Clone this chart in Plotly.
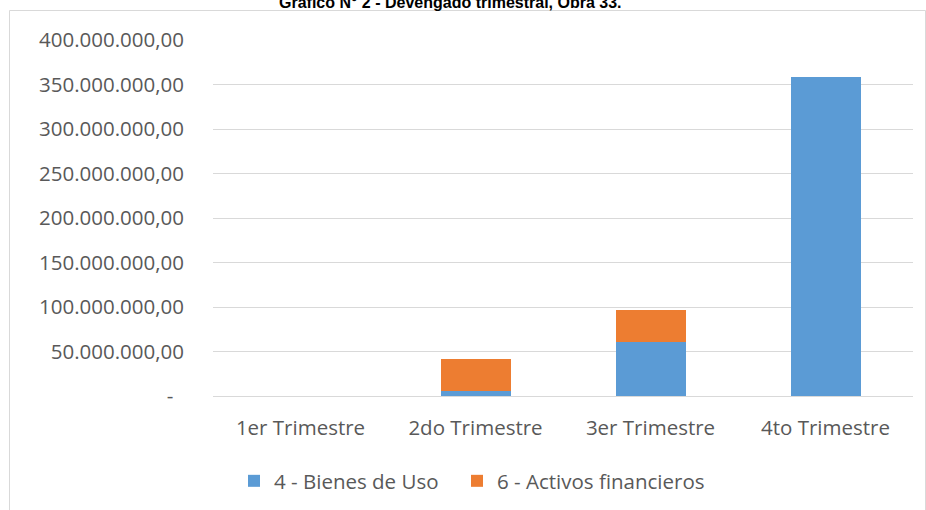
import plotly.graph_objects as go

categories = ["1er Trimestre", "2do Trimestre", "3er Trimestre", "4to Trimestre"]
bienes_de_uso = [0, 5.6e6, 60.7e6, 358.0e6]
activos_financieros = [0, 35.8e6, 35.5e6, 0]
tick_values = [0, 50e6, 100e6, 150e6, 200e6, 250e6, 300e6, 350e6, 400e6]
tick_labels = ["-\u00a0\u00a0", "50.000.000,00", "100.000.000,00", "150.000.000,00", "200.000.000,00",
               "250.000.000,00", "300.000.000,00", "350.000.000,00", "400.000.000,00"]
title_text = "Gráfico N° 2 - Devengado trimestral, Obra 33."

W, H = 926, 510
L, R, T, B = 213, 13, 40, 114
pw, ph = W - L - R, H - T - B

def px_x(p):
    return (p - L) / pw

def px_y(p):
    return (H - B - p) / ph

font_main = "'Open Sans', Lato, sans-serif"
gray = "#595959"
fs = 20.5

fig = go.Figure()
fig.add_trace(go.Bar(x=categories, y=bienes_de_uso, name="4 - Bienes de Uso",
                     marker=dict(color="#5B9BD5", line=dict(width=0)), legend="legend"))
fig.add_trace(go.Bar(x=categories, y=activos_financieros, name="6 - Activos financieros",
                     marker=dict(color="#ED7D31", line=dict(width=0)), legend="legend2"))

leg_common = dict(orientation="h", xanchor="left", y=px_y(481), yanchor="middle",
                  font=dict(size=fs, color=gray), itemwidth=30, bgcolor="rgba(0,0,0,0)")

fig.update_layout(
    width=W, height=H,
    barmode="stack", bargap=0.6,
    margin=dict(l=L, r=R, t=T, b=B, autoexpand=False),
    plot_bgcolor="white", paper_bgcolor="white",
    font=dict(family=font_main, size=fs, color=gray),
    showlegend=True,
    legend=dict(x=px_x(234), **leg_common),
    legend2=dict(x=px_x(457), **leg_common),
    xaxis=dict(showline=False, showgrid=False, ticks="", tickfont=dict(size=fs, color=gray),
               ticklabelstandoff=17),
    yaxis=dict(range=[0, 400e6], tickvals=tick_values, ticktext=tick_labels,
               showgrid=True, gridcolor="#D9D9D9", gridwidth=1.3, zeroline=True,
               zerolinecolor="#D9D9D9", zerolinewidth=1.3, showline=False, ticks="",
               tickfont=dict(size=fs, color=gray), ticklabelstandoff=28),
)

fig.add_shape(type="rect", xref="paper", yref="paper",
              x0=px_x(9.5), x1=px_x(925.5), y0=px_y(520), y1=px_y(10.5),
              line=dict(color="#D9D9D9", width=1), fillcolor="rgba(0,0,0,0)", layer="below")

fig.add_annotation(text="<b>" + title_text + "</b>", xref="paper", yref="paper",
                   x=px_x(450), y=px_y(13), xanchor="center", yanchor="bottom",
                   showarrow=False, font=dict(family="Arial, 'Liberation Sans', sans-serif",
                                               size=16, color="#000000"))

fig.write_html("out.html", config={"displayModeBar": False},
               post_script="document.body.style.margin='0';")
